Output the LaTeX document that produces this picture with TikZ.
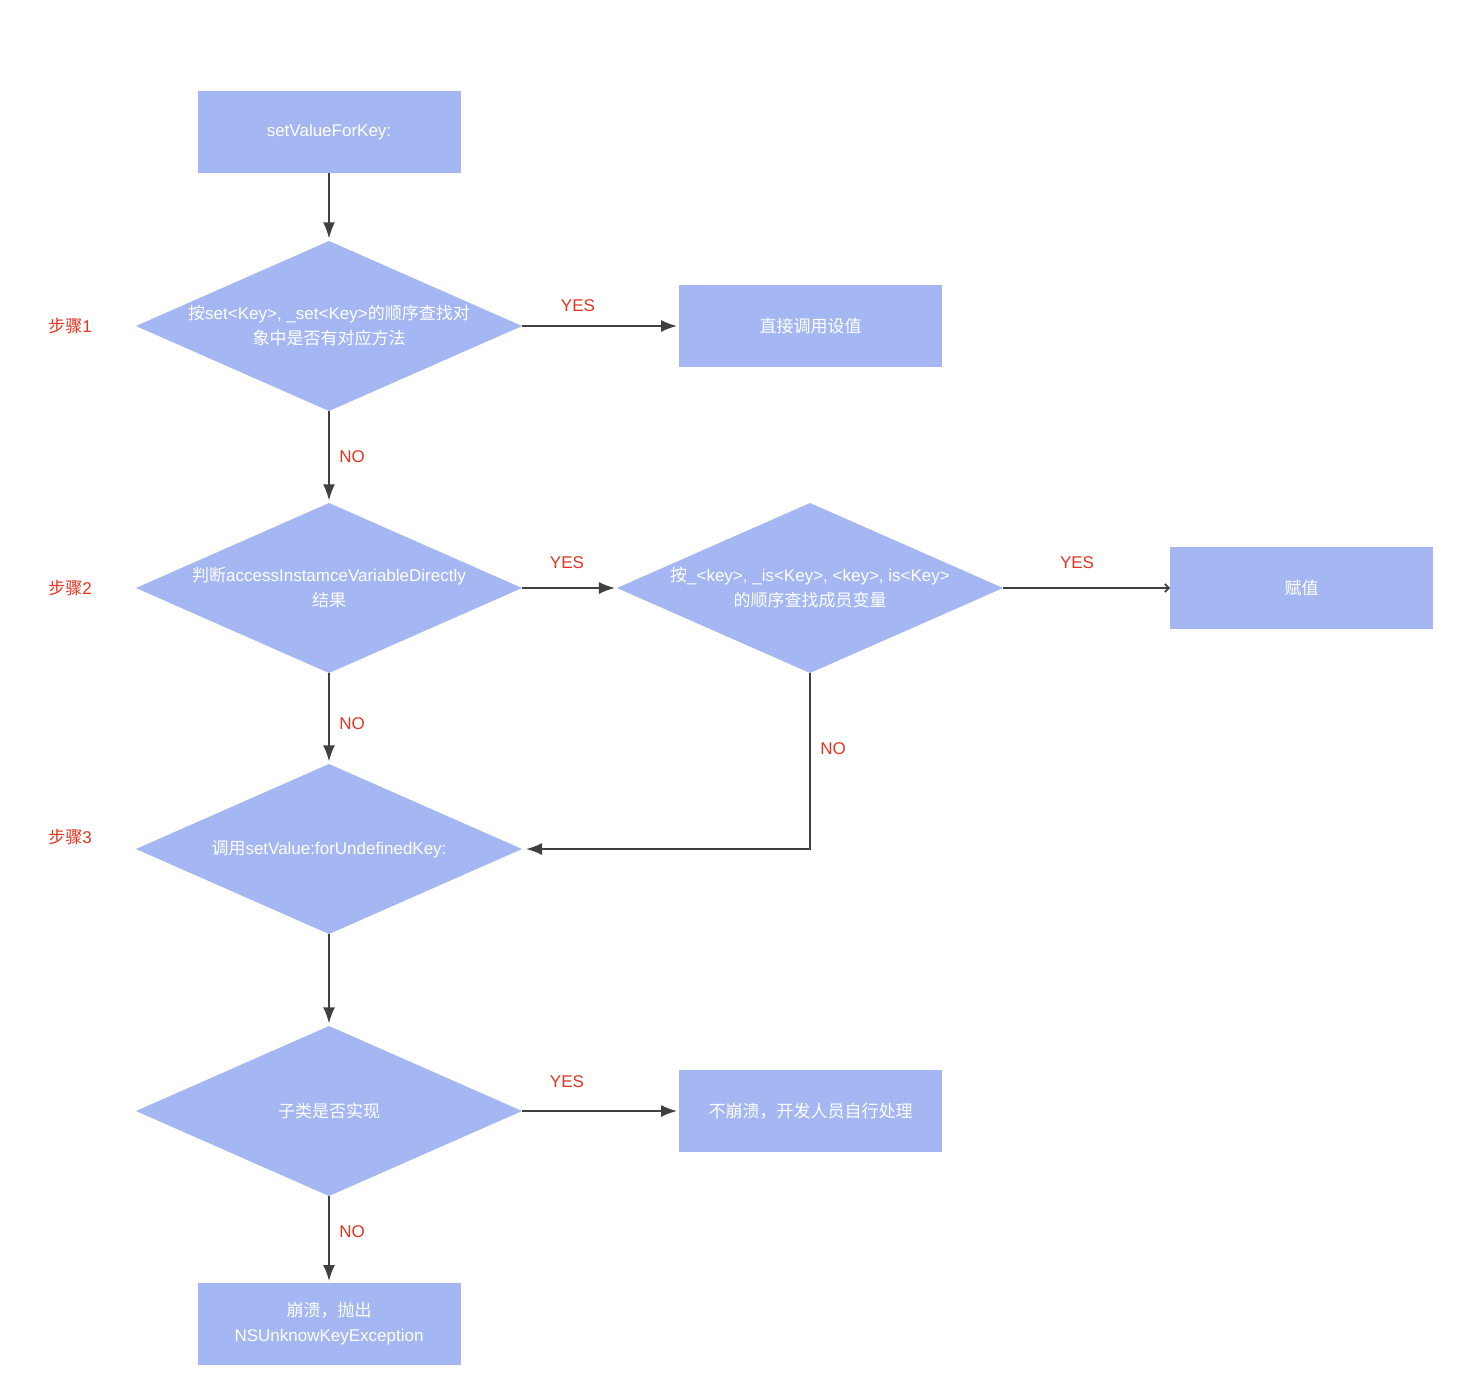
\documentclass[tikz,border=0pt]{standalone}
\usepackage{fontspec}
\setmainfont{Liberation Sans}
\newfontfamily\cjk{Noto Sans CJK SC}
\usetikzlibrary{shapes.geometric,arrows.meta}
\definecolor{boxblue}{RGB}{164,183,243}
\definecolor{lblred}{RGB}{226,52,32}
\newcommand{\zh}[1]{{\cjk #1}}
\tikzset{every picture/.style={line width=0.75pt}}
\tikzset{
  procbox/.style={fill=boxblue, draw=none, minimum width=197.25pt, minimum height=61.5pt, inner sep=0pt, outer sep=0pt, text=white, align=center, font=\fontsize{12.75pt}{18.75pt}\selectfont},
  decision/.style={diamond, fill=boxblue, draw=none, minimum width=289.5pt, minimum height=127.5pt, shape aspect=2.27, inner sep=-4pt, outer sep=0pt, text=white, align=center, font=\fontsize{12.75pt}{18.75pt}\selectfont},
  lbl/.style={text=lblred, inner sep=0pt, font=\fontsize{12.75pt}{15pt}\selectfont},
  flow/.style={draw=black!75, line width=1.3pt, -{Latex[length=12pt,width=9pt]}, shorten >=1.5pt}
}

\begin{document}
\begin{tikzpicture}[x=0.75pt,y=0.75pt,yscale=-1,xscale=1]
\fill[white] (0,0) rectangle (1464,1386);
\useasboundingbox (0,0) rectangle (1464,1386);

% Shape: Rectangle
\node [procbox] (start) at (329,132) {setValueForKey:};
% Shape: Diamond
\node [decision] (d1) at (329,326) {\zh{按}set<Key>, \_set<Key>\zh{的顺序查找对}\\\zh{象中是否有对应方法}};
% Shape: Rectangle
\node [procbox] (direct) at (810.5,326) {\zh{直接调用设值}};
% Shape: Diamond
\node [decision] (d2) at (329,588) {\zh{判断}accessInstamceVariableDirectly\\\zh{结果}};
% Shape: Diamond
\node [decision] (d3) at (810,588) {\zh{按}\_<key>, \_is<Key>, <key>, is<Key>\\\zh{的顺序查找成员变量}};
% Shape: Rectangle
\node [procbox] (assign) at (1301.5,588) {\zh{赋值}};
% Shape: Diamond
\node [decision] (d4) at (329,849) {\zh{调用}setValue:forUndefinedKey:};
% Shape: Diamond
\node [decision] (d5) at (329,1111) {\zh{子类是否实现}};
% Shape: Rectangle
\node [procbox] (nocrash) at (810.5,1111) {\zh{不崩溃，开发人员自行处理}};
% Shape: Rectangle
\node [procbox] (crash) at (329,1324) {\zh{崩溃，抛出}\\NSUnknowKeyException};

% Connectors
\draw [flow, shorten >=2pt] (start) -- (d1);
\draw [flow] (d1) -- (direct);
\draw [flow, shorten >=2pt] (d1) -- (d2);
\draw [flow] (d2) -- (d3);
\draw [draw=black!75, line width=1.3pt, -{Straight Barb[length=3pt,width=6pt]}] (d3) -- (assign);
\draw [flow, shorten >=2pt] (d2) -- (d4);
\draw [flow, shorten >=3pt] (d3.south) |- (d4.east);
\draw [flow, shorten >=2pt] (d4) -- (d5);
\draw [flow] (d5) -- (nocrash);
\draw [flow] (d5) -- (crash);

% Text Node
\node [lbl] (step1) at (70,326) {\zh{步骤}1};
\node [lbl] (step2) at (70,588) {\zh{步骤}2};
\node [lbl] (step3) at (70,837) {\zh{步骤}3};
% Text Node
\node [lbl] (yes1) at (578,306) {YES};
\node [lbl] (yes2) at (567,563) {YES};
\node [lbl] (yes3) at (1077,563) {YES};
\node [lbl] (yes4) at (567,1082) {YES};
% Text Node
\node [lbl] (no1) at (352,457) {NO};
\node [lbl] (no2) at (352,724) {NO};
\node [lbl] (no3) at (833,749) {NO};
\node [lbl] (no4) at (352,1232) {NO};

\end{tikzpicture}
\end{document}
